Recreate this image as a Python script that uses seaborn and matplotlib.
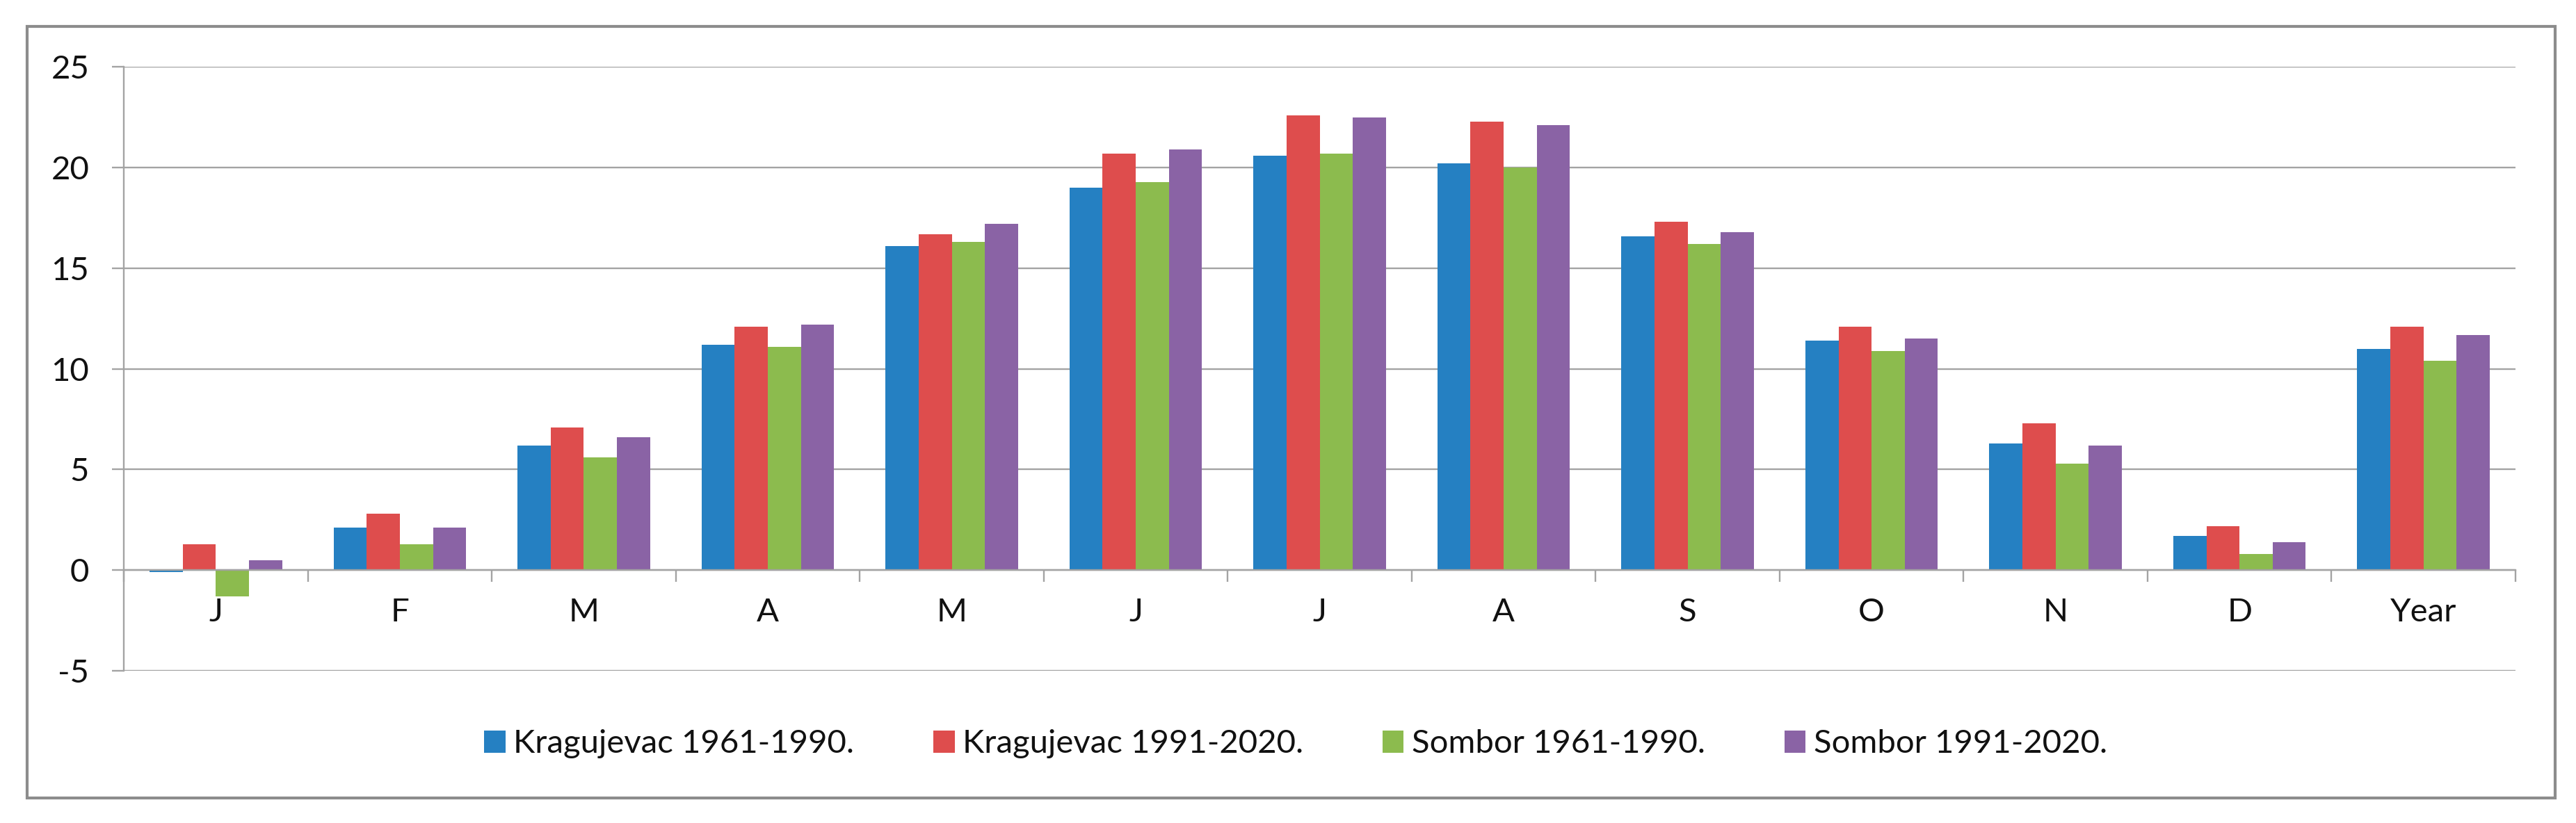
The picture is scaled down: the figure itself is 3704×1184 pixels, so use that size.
import matplotlib
matplotlib.use("Agg")
import matplotlib.pyplot as plt
from matplotlib.patches import Rectangle
import numpy as np
import pandas as pd
import seaborn as sns

# --- Data (mean temperature, deg C) ------------------------------------------
months = ['J', 'F', 'M', 'A', 'M', 'J', 'J', 'A', 'S', 'O', 'N', 'D', 'Year']

series_names = ['Kragujevac 1961-1990.', 'Kragujevac 1991-2020.',
                'Sombor 1961-1990.', 'Sombor 1991-2020.']

kragujevac_1961 = [-0.1, 2.1, 6.2, 11.2, 16.1, 19.0, 20.6, 20.2, 16.6, 11.4, 6.3, 1.7, 11.0]
kragujevac_1991 = [1.3, 2.8, 7.1, 12.1, 16.7, 20.7, 22.6, 22.3, 17.3, 12.1, 7.3, 2.2, 12.1]
sombor_1961     = [-1.3, 1.3, 5.6, 11.1, 16.3, 19.3, 20.7, 20.0, 16.2, 10.9, 5.3, 0.8, 10.4]
sombor_1991     = [0.5, 2.1, 6.6, 12.2, 17.2, 20.9, 22.5, 22.1, 16.8, 11.5, 6.2, 1.4, 11.7]

colors = ['#2580C2', '#DE4D4D', '#8CBB4E', '#8A63A5']

y_ticks = [-5, 0, 5, 10, 15, 20, 25]

# --- Long-format table for seaborn --------------------------------------------
cat_ids = list(range(len(months)))
rows = []
for name, vals in zip(series_names,
                      [kragujevac_1961, kragujevac_1991, sombor_1961, sombor_1991]):
    for i, v in zip(cat_ids, vals):
        rows.append({'cat': i, 'temp': v, 'series': name})
df = pd.DataFrame(rows)

# --- Figure ------------------------------------------------------------------
sns.set_style("white")
plt.rcParams['font.family'] = ['Lato', 'DejaVu Sans']
plt.rcParams['axes.unicode_minus'] = False   # plain hyphen, as in the source

GRAY = '#A3A3A3'
FS = 34
TXT = '#111111'

fig = plt.figure(figsize=(37.04, 11.84), dpi=100)
ax = fig.add_axes([0.0481, 0.1850, 0.9284, 0.7335])

sns.barplot(data=df, x='cat', y='temp', hue='series', hue_order=series_names,
            palette=colors, saturation=1, width=0.72, linewidth=0,
            ax=ax, zorder=3)

# grab legend handles, then drop seaborn's own legend
handles, labels = ax.get_legend_handles_labels()
if ax.legend_ is not None:
    ax.legend_.remove()

ax.set_ylim(-5, 25)
ax.set_yticks(y_ticks)
ax.set_xlim(-0.5, len(months) - 0.5)
ax.set_xlabel('')
ax.set_ylabel('')

# horizontal grid lines
ax.yaxis.grid(True, color=GRAY, linewidth=1.7, zorder=0)
ax.set_axisbelow(True)

# axes: left spine + category axis crossing at zero
for side in ['top', 'right']:
    ax.spines[side].set_visible(False)
ax.spines['left'].set_color(GRAY)
ax.spines['left'].set_linewidth(1.7)
ax.spines['bottom'].set_position(('data', 0))
ax.spines['bottom'].set_color(GRAY)
ax.spines['bottom'].set_linewidth(1.7)
ax.spines['bottom'].set_zorder(4)

# tick marks between categories, labels centred on categories
ax.set_xticks(np.arange(-0.5, len(months), 1.0))
ax.set_xticklabels([])
ax.set_xticks(cat_ids, minor=True)
ax.set_xticklabels(months, minor=True)
ax.tick_params(axis='x', which='major', direction='out', length=12,
               width=1.7, color=GRAY, bottom=True)
ax.tick_params(axis='x', which='minor', length=0, pad=29,
               labelsize=FS, labelcolor=TXT)
ax.tick_params(axis='y', direction='out', length=12, width=1.7,
               color=GRAY, pad=24, labelsize=FS, labelcolor=TXT, left=True)

# legend along the bottom
fig.legend(handles, labels, loc='center', bbox_to_anchor=(0.503, 0.096),
           ncol=4, frameon=False, fontsize=FS, handlelength=0.65,
           handleheight=0.65, handletextpad=0.25, columnspacing=2.4,
           labelcolor=TXT)

# outer chart frame
fig.patches.append(Rectangle((0.0105, 0.0304), 0.9814, 0.9375,
                             transform=fig.transFigure, fill=False,
                             edgecolor='#8C8C8C', linewidth=3))

fig.savefig('out.png', dpi=100)
